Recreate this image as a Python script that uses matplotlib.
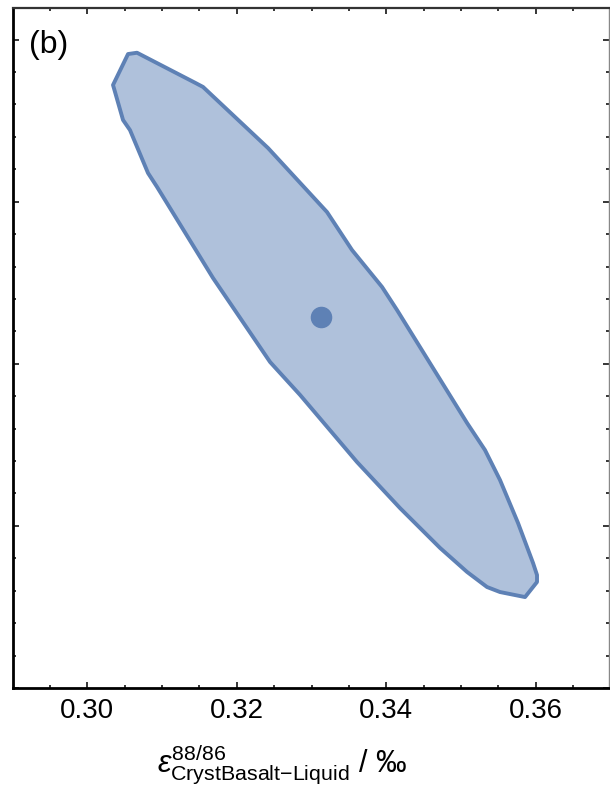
import numpy as np
import matplotlib
matplotlib.use('Agg')
import matplotlib.pyplot as plt
from matplotlib.ticker import MultipleLocator, NullFormatter

# Confidence region outline, clockwise from the top
region_x = [0.30545, 0.30665, 0.31441, 0.31548, 0.32418, 0.33207, 0.33541, 0.33943,
            0.34143, 0.35080, 0.35320, 0.35521, 0.35762, 0.35963, 0.36016, 0.36016,
            0.35856, 0.35521, 0.35347, 0.35080, 0.34719, 0.34183, 0.33608, 0.32846,
            0.32445, 0.31682, 0.30933, 0.30812, 0.30571, 0.30478, 0.30344]
region_y = [3.911, 3.919, 3.734, 3.708, 3.331, 2.936, 2.702, 2.474,
            2.332, 1.635, 1.468, 1.283, 1.018, 0.771, 0.697, 0.654,
            0.561, 0.592, 0.623, 0.716, 0.864, 1.110, 1.394, 1.808,
            2.011, 2.529, 3.091, 3.177, 3.442, 3.504, 3.720]

# best estimate
best_x = [0.3313]
best_y = [2.289]

x_ticks = [0.30, 0.32, 0.34, 0.36]
x_tick_labels = ['0.30', '0.32', '0.34', '0.36']

edge_color = '#5E81B5'
fill_color = '#AFC1DB'

plt.rcParams['font.family'] = ['Liberation Sans', 'DejaVu Sans']
plt.rcParams['mathtext.fontset'] = 'custom'
plt.rcParams['mathtext.rm'] = 'Liberation Sans'
plt.rcParams['mathtext.it'] = 'Liberation Sans:italic'
plt.rcParams['mathtext.bf'] = 'Liberation Sans:bold'

fig = plt.figure(figsize=(6.1, 7.94), dpi=100)
ax = fig.add_axes([13 / 610, 1 - 688 / 794, 596 / 610, 680 / 794])

ax.fill(region_x, region_y, facecolor=fill_color, edgecolor=edge_color, linewidth=2.8,
        joinstyle='round', zorder=2)
ax.plot(best_x, best_y, 'o', color=edge_color, markersize=14.5, zorder=3)

ax.set_xlim(0.29006, 0.36979)
ax.set_ylim(0, 4.195)

ax.set_xticks(x_ticks)
ax.set_xticklabels(x_tick_labels)
ax.xaxis.set_minor_locator(MultipleLocator(0.005))
ax.yaxis.set_major_locator(MultipleLocator(1.0))
ax.yaxis.set_minor_locator(MultipleLocator(0.2))
ax.yaxis.set_major_formatter(NullFormatter())

ax.tick_params(which='both', direction='in', top=True, right=True, color='black')
ax.tick_params(which='major', length=4.5, width=1.1, labelsize=20, pad=7)
ax.tick_params(which='minor', length=2.3, width=1.1)

for side in ['left', 'bottom']:
    ax.spines[side].set_linewidth(2.0)
    ax.spines[side].set_color('black')
ax.spines['top'].set_linewidth(1.6)
ax.spines['top'].set_color('#333333')
ax.spines['right'].set_linewidth(1.0)
ax.spines['right'].set_color('#888888')

ax.text(0.027, 0.968, '(b)', transform=ax.transAxes, fontsize=23, ha='left', va='top')

fig.text(282 / 610, 1 - 764 / 794,
         r'$\varepsilon^{88/86}_{\mathrm{CrystBasalt{-}Liquid}}$ / ‰',
         fontsize=22, ha='center', va='center')

fig.savefig('out.png', dpi=100)
